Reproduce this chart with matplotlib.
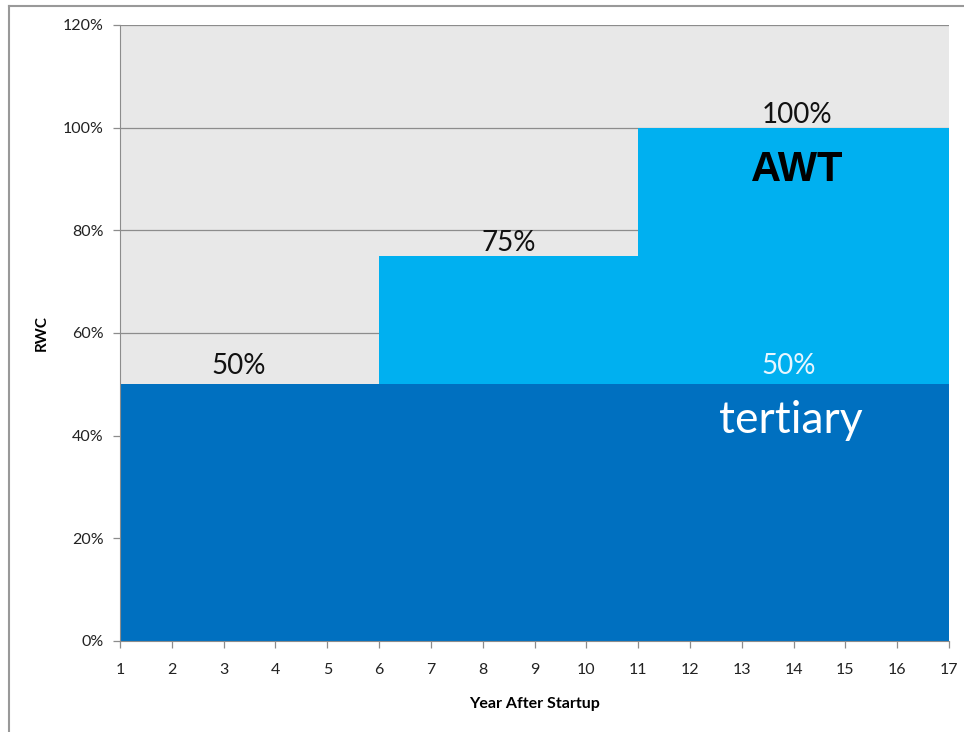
import numpy as np
import matplotlib.pyplot as plt
from matplotlib.lines import Line2D

# RWC schedule by year after startup
edges = [1, 6, 11, 17]
tertiary = [50, 50, 50]
awt = [0, 25, 50]

yticks = [0, 20, 40, 60, 80, 100, 120]
xticks = list(range(1, 18))

# value labels: (x, y, text)
total_labels = [(3.3, 53.5, "50%"), (8.5, 77.5, "75%"), (14.07, 102.5, "100%")]
tertiary_label = (13.9, 53.5, "50%")

dark_blue = "#0070C0"
light_blue = "#00B0F0"

plt.rcParams['font.family'] = ['Lato', 'DejaVu Sans']

fig = plt.figure(figsize=(9.64, 7.32), dpi=100)
ax = fig.add_axes([120 / 964, 1 - 641 / 732, 829 / 964, 616 / 732])
ax.set_facecolor("#E8E8E8")

tert = np.array(tertiary)
total = tert + np.array(awt)
ax.stairs(tert, edges, baseline=0, fill=True, color=dark_blue, zorder=2)
ax.stairs(total, edges, baseline=tert, fill=True, color=light_blue, zorder=2)

ax.set_xlim(1, 17)
ax.set_ylim(0, 120)
ax.set_xticks(xticks)
ax.set_yticks(yticks)
ax.set_yticklabels([f"{v}%" for v in yticks])
ax.grid(axis="y", color="#8C8C8C", linewidth=0.9, zorder=1)
ax.set_axisbelow(True)
ax.tick_params(axis="both", colors="#8C8C8C", labelcolor="#222222",
               labelsize=11.5, length=5, width=0.9)
ax.tick_params(axis="x", pad=11)
ax.tick_params(axis="y", pad=7)
for side in ["top", "right"]:
    ax.spines[side].set_visible(False)
for side in ["left", "bottom"]:
    ax.spines[side].set_color("#8C8C8C")

ax.set_xlabel("Year After Startup", fontsize=11.5, fontweight="bold", labelpad=14)
ax.set_ylabel("RWC", fontsize=11, fontweight="bold", labelpad=10)

for x, y, t in total_labels:
    ax.text(x, y, t, fontsize=20, ha="center", va="center", color="#111111", zorder=3)
ax.text(tertiary_label[0], tertiary_label[1], tertiary_label[2], fontsize=20,
        ha="center", va="center", color="#E8F6FF", zorder=3)
ax.text(14.07, 91.8, "AWT", fontsize=30, fontweight="bold", ha="center",
        va="center", color="black", family=["Liberation Sans", "DejaVu Sans"], zorder=3)
ax.text(13.95, 43.0, "tertiary", fontsize=32, ha="center", va="center",
        color="white", zorder=3)

# outer chart frame
fig.add_artist(Line2D([9 / 964, 1], [1 - 6 / 732, 1 - 6 / 732], color="#999999", linewidth=1.5))
fig.add_artist(Line2D([9 / 964, 9 / 964], [0, 1 - 6 / 732], color="#999999", linewidth=1.5))

fig.savefig("out.png", dpi=100)
